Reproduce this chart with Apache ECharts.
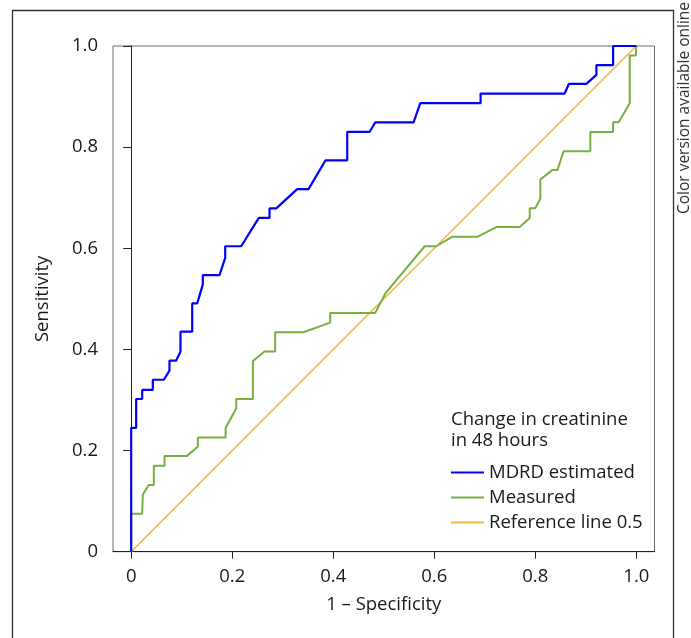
<!DOCTYPE html>
<html>
<head>
<meta charset="utf-8">
<title>ROC curves – change in creatinine</title>
<script src="https://cdn.jsdelivr.net/npm/echarts@6/dist/echarts.min.js"></script>
<style>
  html, body { margin: 0; padding: 0; background: #fff; }
  #chart { width: 691px; height: 638px; }
</style>
</head>
<body>
<div id="chart"></div>
<script>
// ROC curve for MDRD-estimated change in creatinine: [1 - specificity, sensitivity]
const mdrdX = [0, 0, 0.0099, 0.0099, 0.0218, 0.0218, 0.0428, 0.0428, 0.0646, 0.0758, 0.0758, 0.0891, 0.0976, 0.0976,
  0.1208, 0.1208, 0.1307, 0.1418, 0.1418, 0.1749, 0.1861, 0.1861, 0.2178, 0.2527, 0.2739, 0.2739, 0.2871, 0.3287,
  0.3511, 0.3848, 0.4277, 0.4277, 0.4719, 0.4832, 0.559, 0.5723, 0.6917, 0.6917, 0.858, 0.8665, 0.901, 0.921, 0.921,
  0.954, 0.954, 1.0];
const mdrdY = [0, 0.245, 0.245, 0.302, 0.302, 0.320, 0.320, 0.340, 0.340, 0.358, 0.378, 0.378, 0.396, 0.435,
  0.435, 0.491, 0.491, 0.528, 0.547, 0.547, 0.581, 0.604, 0.604, 0.660, 0.660, 0.679, 0.679, 0.717,
  0.717, 0.774, 0.774, 0.830, 0.830, 0.849, 0.849, 0.887, 0.887, 0.906, 0.906, 0.925, 0.925, 0.943, 0.962,
  0.962, 1.0, 1.0];

// ROC curve for measured change in creatinine
const measX = [0, 0, 0.0218, 0.023, 0.0349, 0.0448, 0.0448, 0.066, 0.066, 0.110, 0.132, 0.132, 0.187, 0.187,
  0.208, 0.208, 0.241, 0.241, 0.264, 0.285, 0.285, 0.341, 0.394, 0.394, 0.483, 0.504, 0.581, 0.604, 0.636,
  0.686, 0.723, 0.769, 0.789, 0.789, 0.800, 0.810, 0.810, 0.834, 0.844, 0.856, 0.909, 0.909, 0.954, 0.954,
  0.965, 0.987, 0.987, 0.999, 1.0];
const measY = [0, 0.075, 0.075, 0.113, 0.132, 0.132, 0.170, 0.170, 0.189, 0.189, 0.208, 0.226, 0.226, 0.245,
  0.283, 0.302, 0.302, 0.377, 0.396, 0.396, 0.434, 0.434, 0.453, 0.472, 0.472, 0.512, 0.604, 0.604, 0.623,
  0.623, 0.642, 0.642, 0.660, 0.679, 0.679, 0.698, 0.736, 0.755, 0.755, 0.792, 0.792, 0.830, 0.830, 0.849,
  0.849, 0.887, 0.981, 0.981, 1.0];

// Chance diagonal
const refX = [0, 1];
const refY = [0, 1];

const tickValues = [0, 0.2, 0.4, 0.6, 0.8, 1.0];
const seriesNames = ['MDRD estimated', 'Measured', 'Reference line 0.5'];
const legendHeading = ['Change in creatinine', 'in 48 hours'];
const sideNote = 'Color version available online';

const pair = (xs, ys) => xs.map((x, i) => [x, ys[i]]);
const tickText = v => (v === 0 ? '0' : v.toFixed(1));

const FONT = '"Open Sans", "Noto Sans", sans-serif';
const TEXT = '#1a1a1a';
const FS = 18.5;

const chart = echarts.init(document.getElementById('chart'), null, { renderer: 'canvas' });

chart.setOption({
  animation: false,
  backgroundColor: '#ffffff',
  textStyle: { fontFamily: FONT },
  grid: {
    left: 113, top: 46, width: 541.5, height: 505.7,
    show: true, borderColor: '#6e6e6e', borderWidth: 1, backgroundColor: 'transparent'
  },
  xAxis: {
    type: 'value', min: -0.036, max: 1.036,
    name: '1 – Specificity', nameLocation: 'middle', nameGap: 44,
    nameTextStyle: { fontSize: FS, color: TEXT, fontFamily: FONT },
    axisLine: { show: true, lineStyle: { color: '#222', width: 1 } },
    axisTick: { show: true, inside: false, length: 7, customValues: tickValues, lineStyle: { color: '#222' } },
    axisLabel: { customValues: tickValues, formatter: tickText, fontSize: FS, color: TEXT, margin: 16, fontFamily: FONT },
    splitLine: { show: false }
  },
  yAxis: {
    type: 'value', min: 0, max: 1, interval: 0.2,
    name: 'Sensitivity', nameLocation: 'middle', nameGap: 61, nameRotate: 90,
    nameTextStyle: { fontSize: FS, color: TEXT, fontFamily: FONT },
    axisLine: { show: true, lineStyle: { color: '#222', width: 1 } },
    axisTick: { show: true, inside: false, length: 8, lineStyle: { color: '#222' } },
    axisLabel: { formatter: tickText, fontSize: FS, color: TEXT, margin: 15, fontFamily: FONT },
    splitLine: { show: false }
  },
  legend: {
    data: seriesNames,
    orient: 'vertical',
    left: 451, top: 463,
    itemWidth: 33, itemHeight: 2, itemGap: 6,
    icon: 'rect',
    padding: 0,
    textStyle: { fontSize: FS, color: TEXT, lineHeight: 19, padding: [0, 0, 0, 0], fontFamily: FONT },
    selectedMode: false
  },
  graphic: [
    {
      type: 'rect', silent: true,
      shape: { x: 12.5, y: 10.5, width: 661, height: 700 },
      style: { fill: 'none', stroke: '#333', lineWidth: 1.3 }
    },
    {
      type: 'text', left: 451, top: 409, silent: true,
      style: { text: legendHeading.join('\n'), fontSize: FS, lineHeight: 21, fill: TEXT, fontFamily: FONT }
    },
    {
      type: 'text', silent: true, x: 685, y: 108, rotation: Math.PI / 2,
      style: { text: sideNote, fontSize: 15.5, fill: '#333', fontFamily: FONT, align: 'center', verticalAlign: 'middle' }
    }
  ],
  series: [
    {
      name: seriesNames[2], type: 'line', data: pair(refX, refY),
      showSymbol: false, symbol: 'none', z: 1,
      lineStyle: { color: '#ecb84c', width: 1.6 }, itemStyle: { color: '#ecb84c' }
    },
    {
      name: seriesNames[1], type: 'line', data: pair(measX, measY),
      showSymbol: false, symbol: 'none', z: 2,
      lineStyle: { color: '#76b041', width: 2 }, itemStyle: { color: '#76b041' }
    },
    {
      name: seriesNames[0], type: 'line', data: pair(mdrdX, mdrdY),
      showSymbol: false, symbol: 'none', z: 3,
      lineStyle: { color: '#0000ff', width: 2.2 }, itemStyle: { color: '#0000ff' }
    }
  ]
});
</script>
</body>
</html>
